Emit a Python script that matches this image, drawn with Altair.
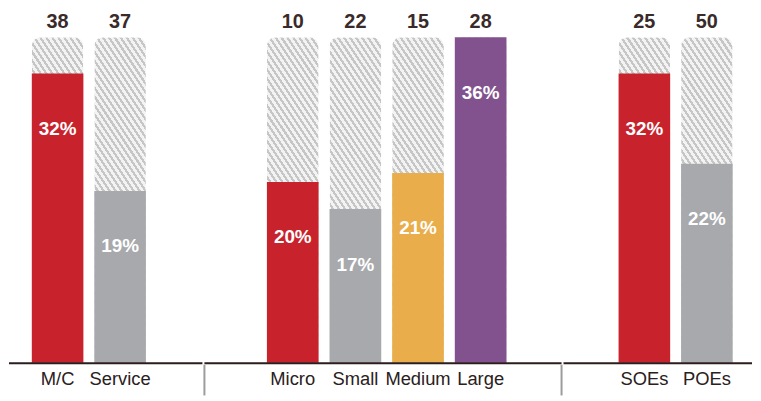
import altair as alt
import pandas as pd

# ---- data ----
groups = ["A", "A", "B", "B", "B", "B", "C", "C"]
categories = ["M/C", "Service", "Micro", "Small", "Medium", "Large", "SOEs", "POEs"]
pct = [32, 19, 20, 17, 21, 36, 32, 22]
counts = [38, 37, 10, 22, 15, 28, 25, 50]
bar_colors = ["#c8232c", "#a7a9ac", "#c8232c", "#a7a9ac", "#e9ae4b", "#82528f", "#c8232c", "#a7a9ac"]

df = pd.DataFrame({"group": groups, "cat": categories, "pct": pct, "n": counts})
df["label"] = df["pct"].astype(str) + "%"
df["count"] = df["n"].astype(str)
full = max(pct)
df["full"] = full

# ---- hatched fill via hard-stop linear gradient ----
N = 45
stripe, gap = "#c6c6c6", "#f3f3f3"
share = 0.45
stops = []
for k in range(N):
    stops += [
        {"offset": k / N, "color": stripe},
        {"offset": (k + share) / N, "color": stripe},
        {"offset": (k + share) / N, "color": gap},
        {"offset": (k + 1) / N, "color": gap},
    ]
bw, bh, slope = 52.0, 328.0, 1.5
dx, dy = -slope * bw / bh, 1.0
dd = dx * dx + dy * dy
span = (1.0 - dx) / dd  # projection range from corner (1,0) to (0,1)
hatch = {
    "gradient": "linear",
    "stops": stops,
    "x1": 1.0, "y1": 0.0,
    "x2": 1.0 + dx * span, "y2": dy * span,
}

H = 328
FONT = "Liberation Sans"
color_scale = alt.Scale(domain=categories, range=bar_colors)


def panel(g, width, rng, seps):
    d = df[df["group"] == g]
    cats = list(d["cat"])
    x = alt.X("cat:N", scale=alt.Scale(domain=cats, range=rng, paddingInner=0.175, paddingOuter=0), axis=None)
    yscale = alt.Scale(domain=[0, full], nice=False, zero=True)
    base = alt.Chart(d)
    bg = base.mark_bar(fill=hatch, cornerRadiusTopLeft=9, cornerRadiusTopRight=9).encode(
        x=x, y=alt.Y("full:Q", scale=yscale, axis=None)
    )
    bars = base.mark_bar().encode(
        x=x,
        y=alt.Y("pct:Q", scale=yscale, axis=None),
        color=alt.Color("cat:N", scale=color_scale, legend=None),
    )
    vals = base.mark_text(font=FONT, fontSize=19, fontWeight="bold", color="white", dy=62, baseline="alphabetic").encode(
        x=x, y=alt.Y("pct:Q", scale=yscale), text="label:N"
    )
    cnt = base.mark_text(font=FONT, fontSize=20, fontWeight="bold", color="#3a2a2a", dy=-9, baseline="alphabetic").encode(
        x=x, y=alt.value(0), text="count:N"
    )
    cl = base.mark_text(font=FONT, fontSize=18.5, color="#2a2020", dy=22, baseline="alphabetic").encode(
        x=x, y=alt.value(H), text="cat:N"
    )
    axis_line = alt.Chart(d.head(1)).mark_rule(color="#2b1d1d", strokeWidth=2).encode(
        x=alt.value(0), x2=alt.value(width), y=alt.value(H + 0.5)
    )
    layers = [bg, bars, vals, cnt, cl, axis_line]
    for sx in seps:
        layers.append(
            alt.Chart(d.head(1)).mark_rule(color="#9c9c9c", strokeWidth=2).encode(
                x=alt.value(sx), y=alt.value(H + 2), y2=alt.value(H + 33)
            )
        )
    return alt.layer(*layers).properties(width=width, height=H)


p1 = panel("A", 195, [23, 138], [])
p2 = panel("B", 360, [63, 304.5], [0, 360])
p3 = panel("C", 190, [55.5, 170.5], [])

chart = (
    alt.hconcat(p1, p2, p3, spacing=0)
    .properties(padding={"top": 3, "left": 0, "right": 0, "bottom": 0})
    .configure_view(stroke=None)
)

chart.save("out.html", embed_options={"renderer": "svg", "actions": False})
